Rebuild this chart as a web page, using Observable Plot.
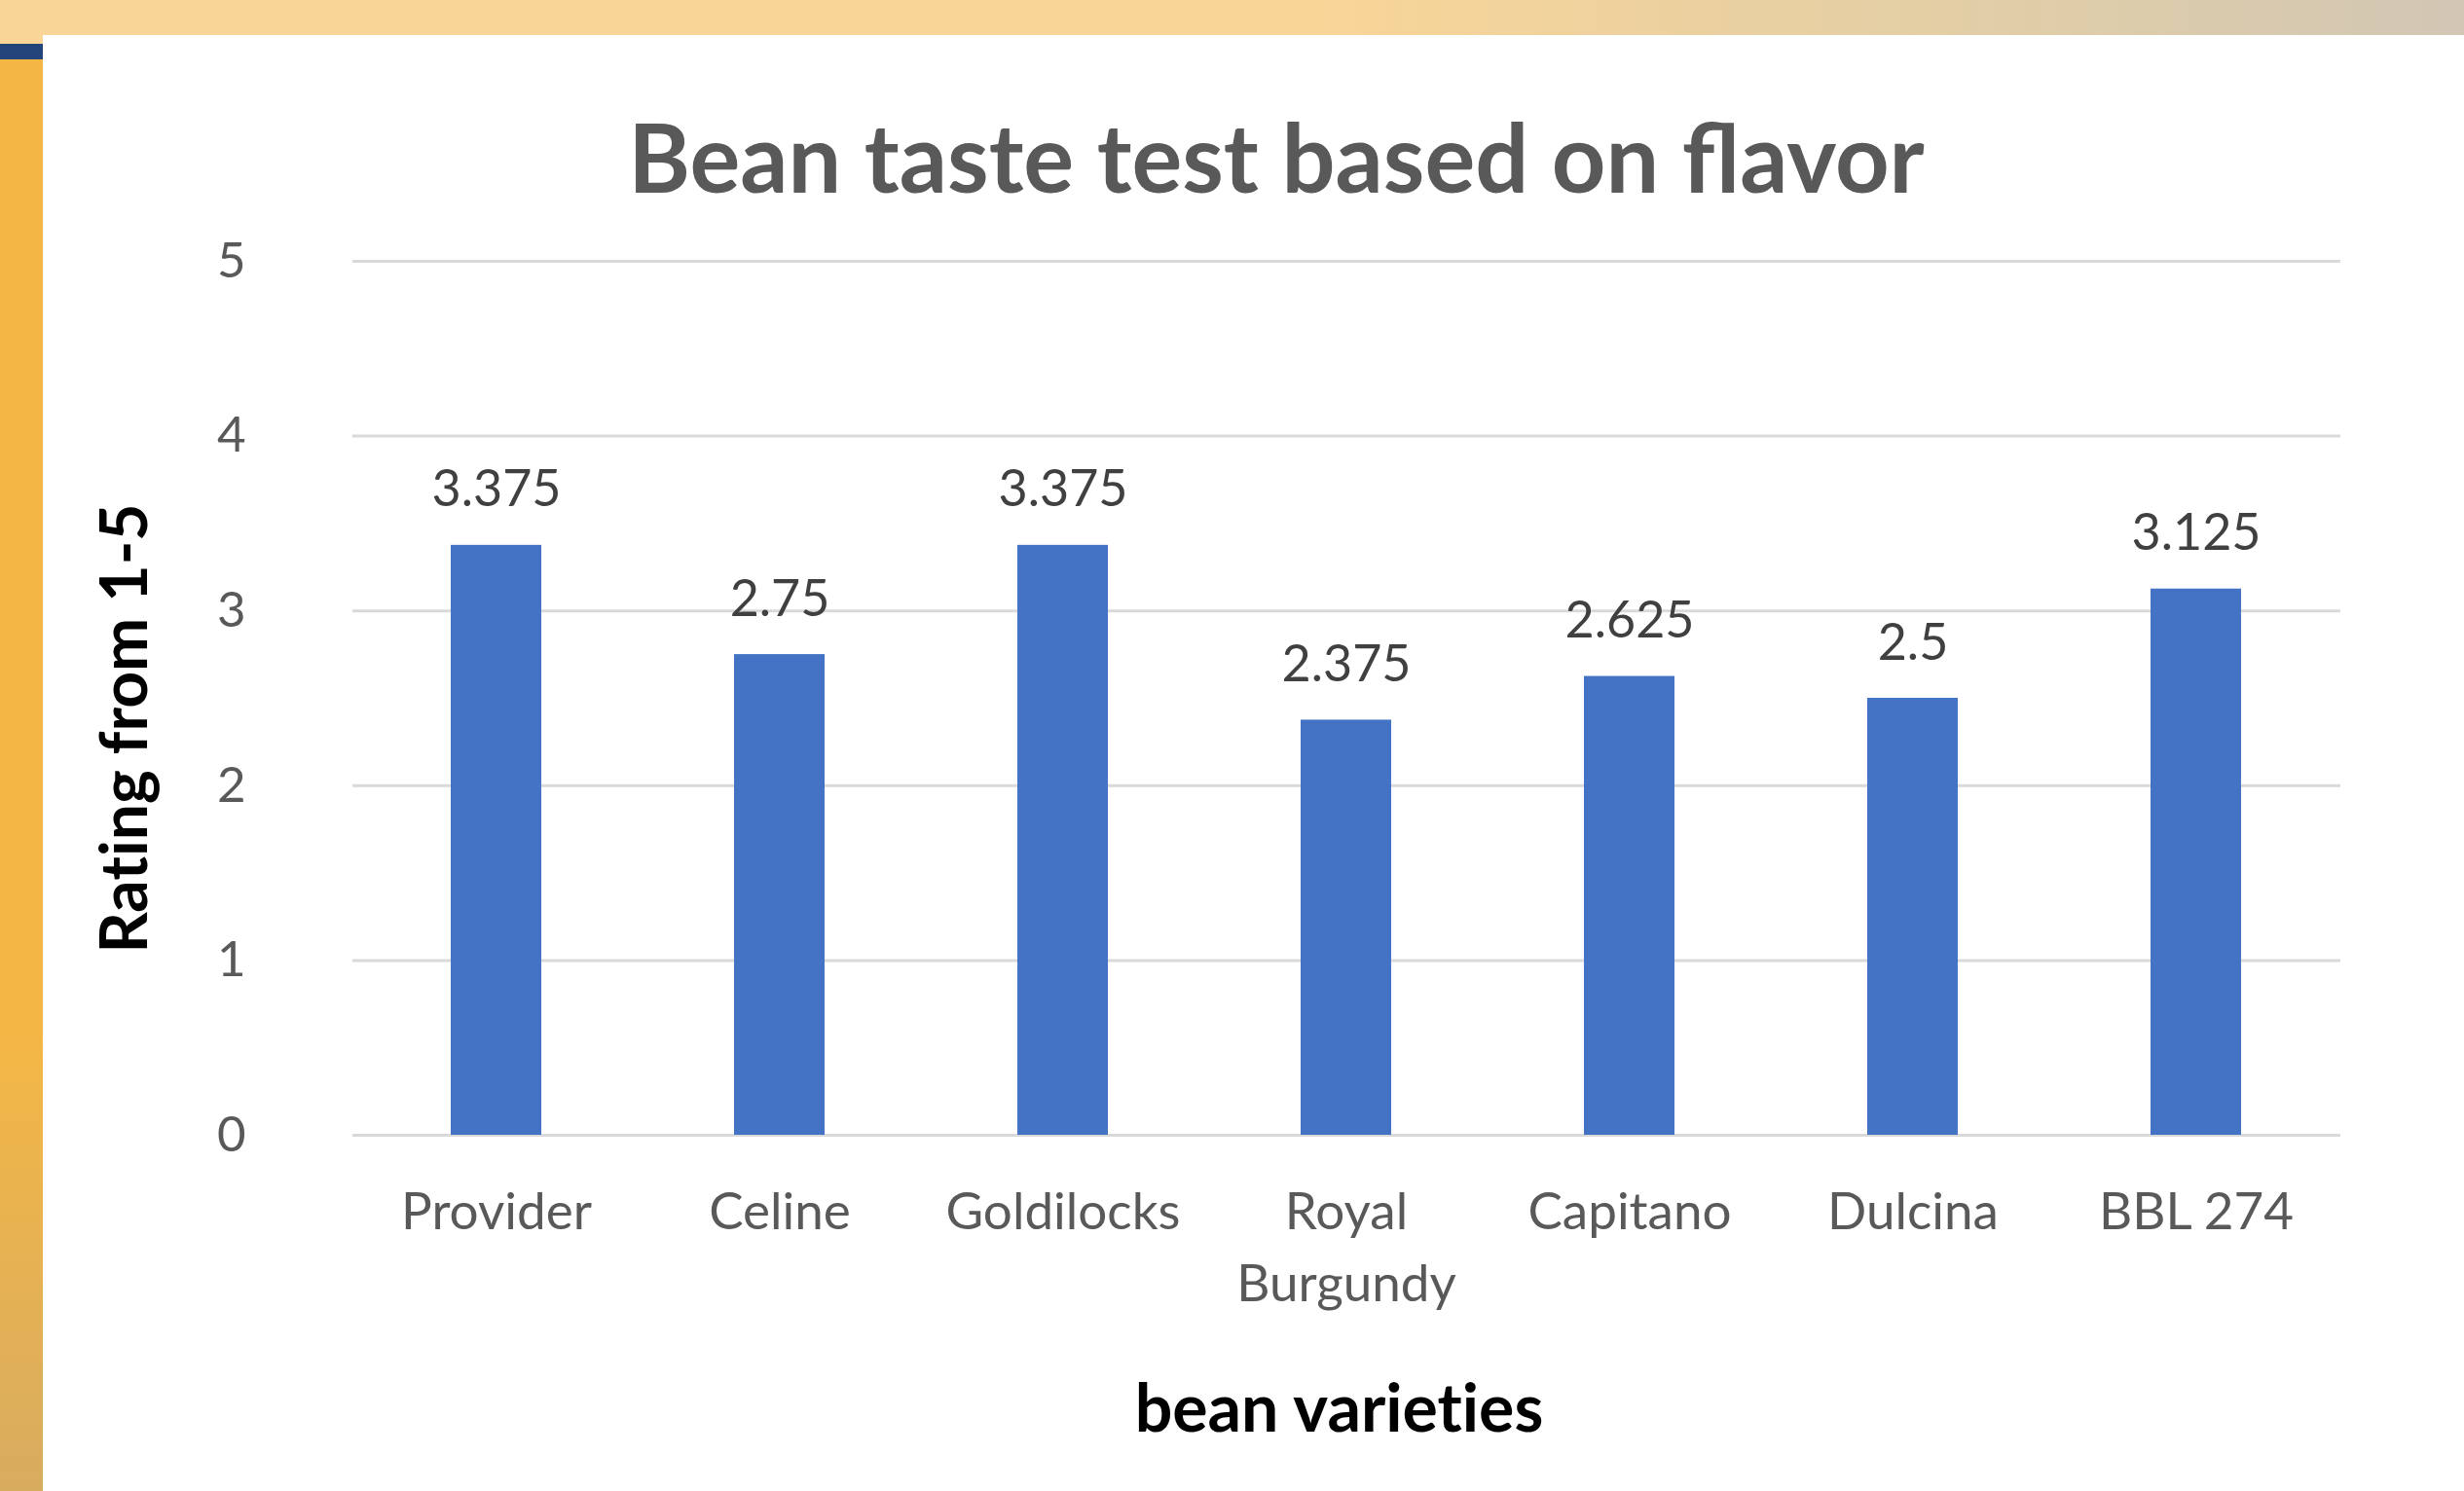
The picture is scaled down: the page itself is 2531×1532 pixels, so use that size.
<!DOCTYPE html>
<html>
<head>
<meta charset="utf-8">
<script src="https://cdn.jsdelivr.net/npm/d3@7"></script>
<script src="https://cdn.jsdelivr.net/npm/@observablehq/plot@0.6"></script>
<style>
  html, body { margin: 0; padding: 0; background: white; }
  #page { position: relative; width: 2531px; height: 1532px; background: white; overflow: hidden; }
  .abs { position: absolute; }
  #title { position: absolute; left: 1311px; top: 112px; transform: translateX(-50%); white-space: nowrap;
           font-family: Lato, "Open Sans", sans-serif; font-weight: 700; font-size: 97px; line-height: 97px; color: #595959; }
  #chart { position: absolute; left: 44px; top: 220px; }
  #chart svg text { font-variant-ligatures: none; }
</style>
</head>
<body>
<div id="page">
  <div class="abs" style="left:0;top:0;width:2531px;height:36px;background:linear-gradient(90deg,#F9D597 0%,#F9D597 53%,#E2CEA6 80%,#D2C7B5 100%)"></div>
  <div class="abs" style="left:0;top:36px;width:44px;height:9px;background:#F9D597"></div>
  <div class="abs" style="left:0;top:45px;width:44px;height:16px;background:#24457B"></div>
  <div class="abs" style="left:0;top:61px;width:44px;height:1471px;background:linear-gradient(180deg,#F4B746 0%,#F4B746 68%,#D8AC5F 100%)"></div>
  <div id="title">Bean taste test based on flavor</div>
  <div id="chart"></div>
</div>
<script>
const varieties = ["Provider", "Celine", "Goldilocks", "Royal Burgundy", "Capitano", "Dulcina", "BBL 274"];
const ratings = [3.375, 2.75, 3.375, 2.375, 2.625, 2.5, 3.125];
const valueLabels = ["3.375", "2.75", "3.375", "2.375", "2.625", "2.5", "3.125"];
const xTickLabels = ["Provider", "Celine", "Goldilocks", "Royal\nBurgundy", "Capitano", "Dulcina", "BBL 274"];
const yTicks = [0, 1, 2, 3, 4, 5];
const yTickLabels = ["0", "1", "2", "3", "4", "5"];
const yTitle = "Rating from 1-5";
const xTitle = "bean varieties";

const data = varieties.map((v, i) => ({variety: v, rating: ratings[i], label: valueLabels[i]}));

const chart = Plot.plot({
  width: 2487,
  height: 1312,
  marginTop: 48,
  marginBottom: 366,
  marginLeft: 318,
  marginRight: 127,
  style: {fontFamily: "Lato, 'Open Sans', sans-serif", background: "transparent", overflow: "visible"},
  x: {domain: varieties, paddingInner: 0.68, paddingOuter: 0.34, align: 0.5, label: null},
  y: {domain: [0, 5], label: null},
  marks: [
    Plot.ruleY(yTicks, {stroke: "#D9D9D9", strokeWidth: 3}),
    Plot.barY(data, {x: "variety", y: "rating", fill: "#4472C4"}),
    Plot.text(data, {x: "variety", y: "rating", text: "label", lineAnchor: "bottom", dy: -40, fontSize: 52, fill: "#404040"}),
    Plot.axisY({ticks: yTicks, tickSize: 0, tickPadding: 110, fontSize: 51, fill: "#595959", label: null,
                tickFormat: d => yTickLabels[yTicks.indexOf(d)]}),
    Plot.axisX({tickSize: 0, tickPadding: 44, fontSize: 53, fill: "#595959", lineAnchor: "top", lineHeight: 1.4,
                tickFormat: d => xTickLabels[varieties.indexOf(d)], label: null}),
    Plot.text([yTitle], {text: d => d, frameAnchor: "left", textAnchor: "middle", rotate: -90, dx: -233, dy: 31, fontSize: 66, fontWeight: "bold", fill: "black"}),
    Plot.text([xTitle], {text: d => d, frameAnchor: "bottom", textAnchor: "middle", dx: -8, dy: 304, fontSize: 68, fontWeight: "bold", fill: "black"})
  ]
});
document.getElementById("chart").appendChild(chart);
</script>
</body>
</html>
